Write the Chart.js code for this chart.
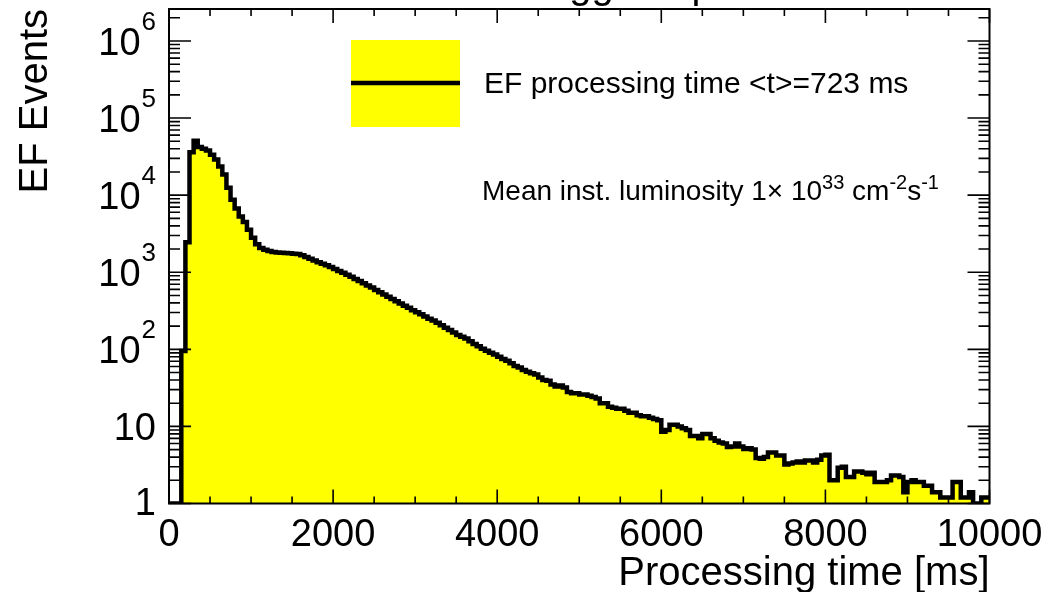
<!DOCTYPE html>
<html>
<head>
<meta charset="utf-8">
<title>EF processing time</title>
<script src="https://cdn.jsdelivr.net/npm/chart.js@4.4.0/dist/chart.umd.min.js"></script>
<style>
  html, body { margin: 0; padding: 0; background: #fff; }
  #wrap { width: 1045px; height: 592px; }
</style>
</head>
<body>
<div id="wrap"><canvas id="myChart" width="1045" height="592"></canvas></div>
<script>
"use strict";

// histogram: 200 bins of 50 ms, from 0 to 10000 ms
var BIN_START = 0;
var BIN_WIDTH = 50;
var EF_COUNTS = [
    0, 0, 0, 0, 95, 2450, 35900, 50800, 42000, 40000,          // 0 - 450
    38000, 33500, 29000, 23500, 18500, 12500, 8700, 6700, 5300, 4500,
    3550, 2800, 2300, 2060, 1960, 1880, 1830, 1800, 1790, 1780, // 1000
    1760, 1740, 1720, 1660, 1580, 1500, 1420, 1350, 1290, 1230,
    1170, 1100, 1040, 985, 930, 875, 820, 770, 720, 675,       // 2000
    635, 590, 550, 515, 480, 450, 420, 392, 368, 345,
    322, 302, 285, 267, 250, 236, 222, 205, 190, 178,          // 3000
    165, 153, 146, 138, 127, 117, 110, 102, 96, 90,
    86, 80, 75, 71, 66, 61, 58, 54, 51, 49,                    // 4000
    47, 43, 40, 39, 35, 33, 34, 32, 28, 27,
    27, 26, 26, 25, 24, 23, 20, 20, 18, 17.5,                  // 5000
    17, 17, 16, 15, 15, 14, 13.5, 13.5, 13, 12.5,
    12, 8.5, 9, 10.5, 10.5, 10, 9.5, 9, 7.5, 7.5,              // 6000
    7, 8, 8, 7, 6.5, 6.2, 6, 5.4, 5.5, 6,
    5.5, 5.1, 5.2, 5, 3.9, 3.8, 4, 4.6, 4.6, 4.2,              // 7000
    4.2, 3.2, 3.3, 3.4, 3.5, 3.4, 3.6, 3.6, 3.4, 3.7,
    4.2, 4.3, 2, 2, 2.9, 3, 2.2, 2.2, 2.6, 2.6,                // 8000
    2.5, 2.4, 2.5, 1.9, 1.9, 1.9, 2, 2.3, 2.3, 2.2,
    1.4, 1.9, 2, 1.9, 1.9, 1.7, 1.7, 1.4, 1.4, 1.2,            // 9000
    1.2, 1.2, 1.9, 1.9, 1.2, 1.2, 1.4, 1, 1, 1.2
];

var X_MIN = 0, X_MAX = 10000;
var Y_MIN = 1, Y_MAX = 2.6e6;

var X_TICKS = [0, 2000, 4000, 6000, 8000, 10000];
var X_TICK_LABELS = ['0', '2000', '4000', '6000', '8000', '10000'];
var X_MINOR_STEP = 500;

var Y_TICKS = [1, 10, 100, 1000, 10000, 100000, 1000000];
var Y_TICK_BASE = ['1', '10', '10', '10', '10', '10', '10'];
var Y_TICK_EXP = ['', '', '2', '3', '4', '5', '6'];

var X_TITLE = 'Processing time [ms]';
var Y_TITLE = 'EF Events';
var PLOT_TITLE = 'Trigger Operation';
var LEGEND_LABEL = 'EF processing time <t>=723 ms';
var LUMI_TEXT = [
    { t: 'Mean inst. luminosity 1\u00d7 10' },
    { t: '33', sup: true },
    { t: ' cm' },
    { t: '-2', sup: true },
    { t: 's' },
    { t: '-1', sup: true }
];

var FONT = "'Liberation Sans', Arial, Helvetica, sans-serif";

// step points at the low edge of every bin, plus the closing edge
function buildPoints() {
    var pts = [];
    for (var i = 0; i < EF_COUNTS.length; i++) {
        var v = EF_COUNTS[i] > 0 ? EF_COUNTS[i] : Y_MIN;   // empty bins sit on the floor, like ROOT
        pts.push({ x: BIN_START + i * BIN_WIDTH, y: v });
    }
    var last = EF_COUNTS[EF_COUNTS.length - 1];
    pts.push({ x: BIN_START + EF_COUNTS.length * BIN_WIDTH, y: last > 0 ? last : Y_MIN });
    return pts;
}

function drawRich(c, parts, x, y, size, supSize, supRise) {
    var px = x;
    parts.forEach(function (p) {
        c.font = (p.sup ? supSize : size) + 'px ' + FONT;
        c.fillText(p.t, px, p.sup ? y - supRise : y);
        px += c.measureText(p.t).width;
    });
}

var rootStyle = {
    id: 'rootStyle',
    beforeDraw: function (chart) {
        var c = chart.ctx;
        c.save();
        c.fillStyle = '#ffffff';
        c.fillRect(0, 0, chart.width, chart.height);
        c.restore();
    },
    afterDraw: function (chart) {
        var c = chart.ctx;
        var a = chart.chartArea;
        var xs = chart.scales.x;
        var ys = chart.scales.y;
        var ds = chart.data.datasets[0];

        c.save();
        c.strokeStyle = '#000';
        c.fillStyle = '#000';

        // title, mostly outside the canvas (only descenders visible)
        c.font = '40px ' + FONT;
        c.textAlign = 'left';
        c.textBaseline = 'alphabetic';
        c.fillText(PLOT_TITLE, 524, -2);

        // ticks, inside, on all four sides
        c.lineWidth = 1.6;
        c.beginPath();
        for (var v = X_MIN; v <= X_MAX; v += X_MINOR_STEP) {
            var px = xs.getPixelForValue(v);
            var len = X_TICKS.indexOf(v) >= 0 ? 14 : 7;
            c.moveTo(px, a.bottom); c.lineTo(px, a.bottom - len);
            c.moveTo(px, a.top); c.lineTo(px, a.top + len);
        }
        for (var e = 0; e <= 6; e++) {
            for (var m = 1; m <= 9; m++) {
                var val = m * Math.pow(10, e);
                if (val > Y_MAX) break;
                var py = ys.getPixelForValue(val);
                var l = m === 1 ? 22 : 11;
                c.moveTo(a.left, py); c.lineTo(a.left + l, py);
                c.moveTo(a.right, py); c.lineTo(a.right - l, py);
            }
        }
        c.stroke();

        // frame
        c.lineWidth = 2;
        c.strokeRect(a.left, a.top, a.right - a.left, a.bottom - a.top);

        // x labels
        c.font = '38px ' + FONT;
        c.textAlign = 'center';
        X_TICKS.forEach(function (t, i) {
            c.fillText(X_TICK_LABELS[i], xs.getPixelForValue(t), 546);
        });

        // y labels
        c.textAlign = 'right';
        Y_TICKS.forEach(function (t, i) {
            var py = ys.getPixelForValue(t);
            var right = 156;
            if (Y_TICK_EXP[i]) {
                c.font = '26px ' + FONT;
                c.fillText(Y_TICK_EXP[i], right, py - 11);
                right -= c.measureText(Y_TICK_EXP[i]).width + 1;
            }
            c.font = '38px ' + FONT;
            c.fillText(Y_TICK_BASE[i], right, py + (i === 0 ? 11 : 14));
        });

        // axis titles
        c.font = '40px ' + FONT;
        c.textAlign = 'right';
        c.fillText(X_TITLE, a.right, 585);
        c.save();
        c.translate(47, a.top);
        c.rotate(-Math.PI / 2);
        c.fillText(Y_TITLE, 0, 0);
        c.restore();

        // legend
        c.fillStyle = ds.backgroundColor;
        c.fillRect(351, 40, 109, 87);
        c.strokeStyle = ds.borderColor;
        c.lineWidth = ds.borderWidth;
        c.beginPath();
        c.moveTo(351, 83); c.lineTo(460, 83);
        c.stroke();
        c.fillStyle = '#000';
        c.textAlign = 'left';
        c.font = '30px ' + FONT;
        c.fillText(LEGEND_LABEL, 484, 93);

        drawRich(c, LUMI_TEXT, 482, 200, 28, 20, 11);

        c.restore();
    }
};

new Chart(document.getElementById('myChart'), {
    type: 'line',
    data: {
        datasets: [{
            label: LEGEND_LABEL,
            data: buildPoints(),
            stepped: 'after',
            borderColor: '#000000',
            borderWidth: 4.5,
            borderJoinStyle: 'miter',
            borderCapStyle: 'butt',
            backgroundColor: '#ffff00',
            fill: 'start',
            pointRadius: 0,
            tension: 0
        }]
    },
    options: {
        responsive: false,
        animation: false,
        devicePixelRatio: 1,
        events: [],
        layout: { padding: { left: 169, top: 9, right: 55.5, bottom: 88.5 } },
        scales: {
            x: { type: 'linear', min: X_MIN, max: X_MAX, display: false },
            y: { type: 'logarithmic', min: Y_MIN, max: Y_MAX, display: false }
        },
        plugins: {
            legend: { display: false },
            tooltip: { enabled: false }
        }
    },
    plugins: [rootStyle]
});
</script>
</body>
</html>
